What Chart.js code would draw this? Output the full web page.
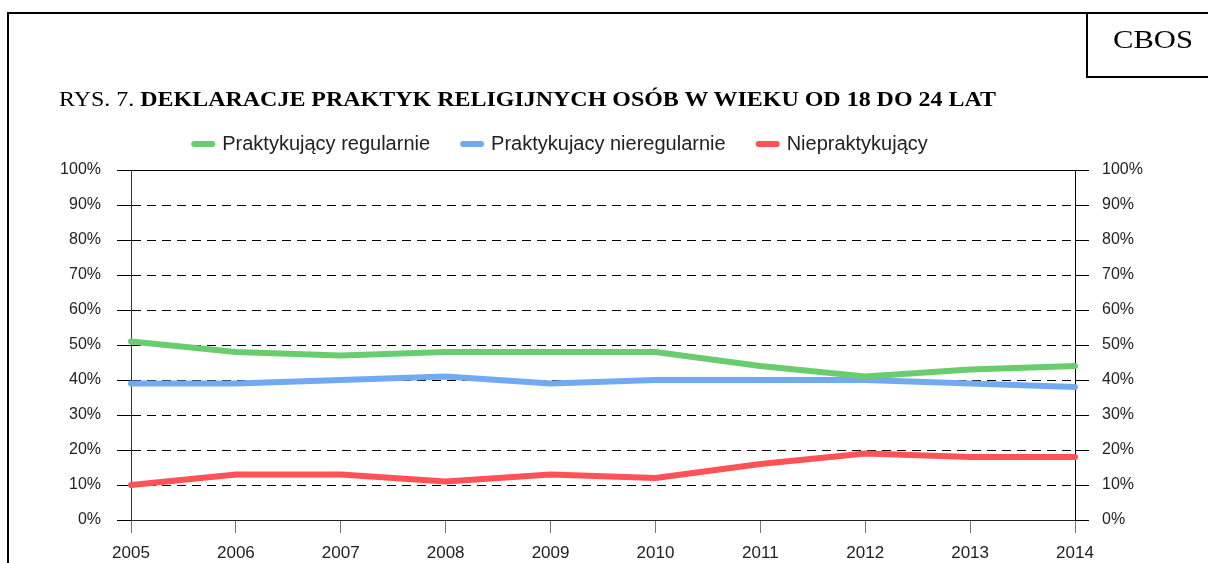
<!DOCTYPE html>
<html><head><meta charset="utf-8">
<script src="https://cdn.jsdelivr.net/npm/chart.js@4.4.1/dist/chart.umd.min.js"></script>
<style>
html,body{margin:0;padding:0;background:#fff;width:1208px;height:563px;overflow:hidden;}
#wrap{position:relative;width:1208px;height:563px;}
#c{position:absolute;left:0;top:0;}
.ln{position:absolute;background:#000;}
#title{position:absolute;left:59px;top:89px;font-family:"Liberation Serif","Times New Roman",serif;font-size:21px;line-height:1;white-space:nowrap;transform-origin:0 0;color:#000;}
#cbos{position:absolute;left:1113px;top:27px;font-family:"Liberation Serif","Times New Roman",serif;font-size:25px;line-height:1;white-space:nowrap;transform-origin:0 0;color:#000;}
</style></head>
<body>
<div id="wrap">
<canvas id="c" width="1208" height="563"></canvas>
<div class="ln" style="left:7px;top:12px;width:1201px;height:2px;"></div>
<div class="ln" style="left:7px;top:12px;width:2px;height:551px;"></div>
<div class="ln" style="left:1086px;top:12px;width:2px;height:66px;"></div>
<div class="ln" style="left:1086px;top:76px;width:122px;height:2px;"></div>
<div id="title">RYS. 7. <b>DEKLARACJE PRAKTYK RELIGIJNYCH OSÓB W WIEKU OD 18 DO 24 LAT</b></div>
<div id="cbos">CBOS</div>
</div>
<script>
const years = ['2005','2006','2007','2008','2009','2010','2011','2012','2013','2014'];
const regularnie = [51,48,47,48,48,48,44,41,43,44];
const nieregularnie = [39,39,40,41,39,40,40,40,39,38];
const niepraktykujacy = [10,13,13,11,13,12,16,19,18,18];
const seriesNames = ['Praktykujący regularnie','Praktykujacy nieregularnie','Niepraktykujący'];
const seriesColors = ['#69CD70','#72AAF2','#FF5257'];

function fitWidth(id, w){
  const el = document.getElementById(id);
  const cur = el.getBoundingClientRect().width;
  el.style.transform = 'scaleX(' + (w/cur) + ')';
}
fitWidth('title', 937);
fitWidth('cbos', 80);

const LEGEND_TOP = 101;
const CHART_TOP = 170;
const LEGEND_SHIFT = -43;

const frame = {
  id: 'frame',
  beforeLayout(chart){
    const lg = chart.legend;
    if (lg && !lg._patched){
      const orig = lg.fit;
      lg.fit = function(){ orig.call(this); this.height = CHART_TOP - LEGEND_TOP; };
      lg._patched = true;
    }
  },
  afterLayout(chart){
    const lg = chart.legend;
    if (lg){ lg.left += LEGEND_SHIFT; lg.right += LEGEND_SHIFT; }
  },
  beforeDatasetsDraw(chart){
    const {ctx, chartArea:a} = chart;
    ctx.save();
    ctx.strokeStyle = '#000';
    ctx.lineWidth = 1;
    ctx.beginPath();
    ctx.moveTo(a.left - 14, a.top + 0.5);
    ctx.lineTo(a.right + 14, a.top + 0.5);
    ctx.stroke();
    ctx.restore();
  }
};

const ds = [regularnie, nieregularnie, niepraktykujacy].map((d,i)=>({
  label: seriesNames[i],
  data: d,
  borderColor: seriesColors[i],
  backgroundColor: seriesColors[i],
  borderWidth: 6,
  borderCapStyle: 'round',
  borderJoinStyle: 'round',
  pointRadius: 0,
  pointHoverRadius: 0,
  tension: 0,
  fill: false,
  yAxisID: 'y'
}));

new Chart(document.getElementById('c'), {
  type: 'line',
  data: { labels: years, datasets: ds },
  plugins: [frame],
  options: {
    responsive: false,
    animation: false,
    events: [],
    layout: { padding: { top: LEGEND_TOP, left: 0, right: 0, bottom: 0 } },
    plugins: {
      title: { display: false },
      tooltip: { enabled: false },
      legend: {
        display: true,
        position: 'top',
        labels: {
          usePointStyle: true,
          pointStyle: 'line',
          pointStyleWidth: 18,
          boxHeight: 6,
          padding: 33,
          color: '#222',
          font: { family: '"Liberation Sans", Arial, sans-serif', size: 20 },
          generateLabels(chart){
            const items = Chart.defaults.plugins.legend.labels.generateLabels(chart);
            items.forEach(it => { it.lineCap = 'round'; it.lineWidth = 6; });
            return items;
          }
        }
      }
    },
    scales: {
      x: {
        offset: false,
        grid: { display: true, drawOnChartArea: false, drawTicks: true, tickLength: 13, color: '#777', lineWidth: 1 },
        border: { display: true, color: '#222', width: 1 },
        ticks: { color: '#222', padding: 10, maxRotation: 0, autoSkip: false, font: { family: '"Liberation Sans", Arial, sans-serif', size: 17 } },
        afterFit(s){ s.height = 43; }
      },
      y: {
        position: 'left',
        min: 0, max: 100,
        grid: { display: true, drawOnChartArea: true, drawTicks: true, tickLength: 14, color: '#000', lineWidth: 1, tickBorderDash: [] },
        border: { display: true, color: '#333', width: 1, dash: [9,6] },
        ticks: { stepSize: 10, color: '#222', padding: 16, font: { family: '"Liberation Sans", Arial, sans-serif', size: 16 }, callback: v => v + '%' },
        afterFit(s){ s.width = 131; }
      },
      y2: {
        position: 'right',
        min: 0, max: 100,
        grid: { display: true, drawOnChartArea: false, drawTicks: true, tickLength: 14, color: '#000', lineWidth: 1 },
        border: { display: true, color: '#000', width: 1 },
        ticks: { stepSize: 10, color: '#222', padding: 13, font: { family: '"Liberation Sans", Arial, sans-serif', size: 16 }, callback: v => v + '%' },
        afterFit(s){ s.width = 133; }
      }
    }
  }
});
</script>
</body></html>
